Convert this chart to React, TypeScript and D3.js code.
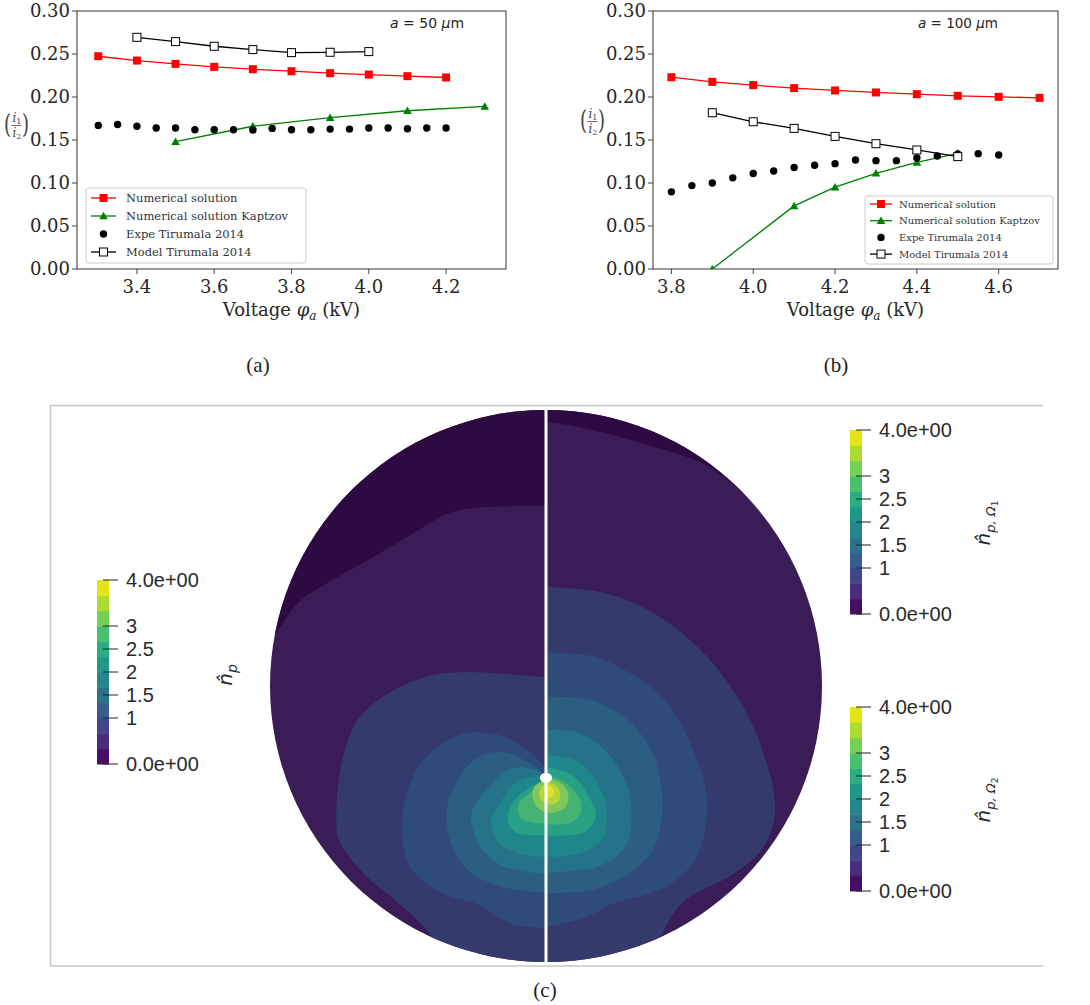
import React from "react";
import * as d3 from "d3";

const W = 1090;
const H = 1005;
const SERIF = "'DejaVu Serif', serif";
const SANS = "'DejaVu Sans', sans-serif";

// ---------------- Data: panel (a), a = 50 µm ----------------
const voltA_num = [3.3, 3.4, 3.5, 3.6, 3.7, 3.8, 3.9, 4.0, 4.1, 4.2];
const numA = [0.2474, 0.2424, 0.2385, 0.235, 0.2323, 0.23, 0.2277, 0.2261, 0.2242, 0.2227];
const voltA_kap = [3.5, 3.7, 3.9, 4.1, 4.3];
const kapA = [0.148, 0.166, 0.176, 0.184, 0.189];
const voltA_exp = [3.3, 3.35, 3.4, 3.45, 3.5, 3.55, 3.6, 3.65, 3.7, 3.75, 3.8, 3.85, 3.9, 3.95, 4.0, 4.05, 4.1, 4.15, 4.2];
const expA = [0.167, 0.168, 0.166, 0.164, 0.164, 0.162, 0.162, 0.162, 0.1616, 0.1635, 0.162, 0.162, 0.1627, 0.1627, 0.164, 0.164, 0.163, 0.164, 0.164];
const voltA_mod = [3.4, 3.5, 3.6, 3.7, 3.8, 3.9, 4.0];
const modA = [0.2694, 0.2644, 0.259, 0.2551, 0.2516, 0.252, 0.2528];

// ---------------- Data: panel (b), a = 100 µm ----------------
const voltB_num = [3.8, 3.9, 4.0, 4.1, 4.2, 4.3, 4.4, 4.5, 4.6, 4.7];
const numB = [0.223, 0.2176, 0.2138, 0.2103, 0.2076, 0.2053, 0.2033, 0.2014, 0.2002, 0.199];
const voltB_kap = [3.9, 4.1, 4.2, 4.3, 4.4, 4.5];
const kapB = [0.0, 0.0734, 0.0951, 0.1113, 0.124, 0.1345];
const voltB_exp = [3.8, 3.85, 3.9, 3.95, 4.0, 4.05, 4.1, 4.15, 4.2, 4.25, 4.3, 4.35, 4.4, 4.45, 4.5, 4.55, 4.6];
const expB = [0.0897, 0.097, 0.1, 0.106, 0.111, 0.114, 0.118, 0.1206, 0.1225, 0.1268, 0.126, 0.126, 0.129, 0.1314, 0.1337, 0.1341, 0.1326];
const voltB_mod = [3.9, 4.0, 4.1, 4.2, 4.3, 4.4, 4.5];
const modB = [0.1817, 0.1712, 0.1635, 0.1542, 0.1457, 0.1384, 0.1307];

const SERIES_NAMES = ["Numerical solution", "Numerical solution Kaptzov", "Expe Tirumala 2014", "Model Tirumala 2014"];
const Y_TICKS = [0, 0.05, 0.1, 0.15, 0.2, 0.25, 0.3];
const X_TICKS_A = [3.4, 3.6, 3.8, 4.0, 4.2];
const X_TICKS_B = [3.8, 4.0, 4.2, 4.4, 4.6];

// ---------------- Data: panel (c), contour bands ----------------
const CB_TICKS = [0, 1, 1.5, 2, 2.5, 3, 4];
const CB_LABELS = ["0.0e+00", "1", "1.5", "2", "2.5", "3", "4.0e+00"];
const N_BANDS = 12;
const CONTOUR_COLORS = ["#2e0a42", "#3a1c57", "#343a6c", "#2f4b78", "#2b5e80", "#257289", "#1f878b", "#27a083", "#45b373", "#80c65a", "#b5d53a", "#e2e024"];

// boundaries in normalized disk coordinates (u right, v up, radius 1)
const LEFT_REGIONS = [
  { level: 0, edge: [[-1.03, 0.13], [-0.98, 0.19], [-0.9, 0.3], [-0.78, 0.38], [-0.62, 0.47], [-0.47, 0.56], [-0.34, 0.63], [-0.17, 0.65], [0.05, 0.65]], close: [[0.05, 1.1], [-1.1, 1.1], [-1.1, 0.13]] },
  { level: 2, edge: [[0.04, 0.03], [-0.1, 0.04], [-0.25, 0.05], [-0.41, 0.04], [-0.56, -0.02], [-0.68, -0.12], [-0.74, -0.28], [-0.76, -0.48], [-0.75, -0.56], [-0.66, -0.68], [-0.53, -0.79], [-0.42, -0.9], [-0.37, -1.01]], close: [[-0.37, -1.1], [0.04, -1.1]] },
  { level: 3, edge: [[0.01, -0.31], [-0.07, -0.23], [-0.16, -0.18], [-0.28, -0.17], [-0.38, -0.21], [-0.46, -0.29], [-0.51, -0.41], [-0.52, -0.54], [-0.49, -0.66], [-0.38, -0.75], [-0.25, -0.79], [-0.13, -0.86], [0.01, -0.88]], close: [[0.05, -0.88], [0.05, -0.31]] },
  { level: 4, edge: [[0.01, -0.33], [-0.06, -0.28], [-0.15, -0.24], [-0.25, -0.26], [-0.32, -0.34], [-0.36, -0.45], [-0.34, -0.58], [-0.28, -0.67], [-0.15, -0.73], [0.01, -0.75]], close: [[0.05, -0.75], [0.05, -0.33]] },
  { level: 5, edge: [[0.01, -0.33], [-0.05, -0.3], [-0.13, -0.3], [-0.21, -0.37], [-0.27, -0.46], [-0.25, -0.56], [-0.18, -0.64], [-0.09, -0.67], [0.01, -0.68]], close: [[0.05, -0.68], [0.05, -0.33]] },
  { level: 6, edge: [[0.01, -0.33], [-0.06, -0.33], [-0.12, -0.36], [-0.17, -0.43], [-0.2, -0.49], [-0.17, -0.57], [-0.09, -0.61], [0.01, -0.62]], close: [[0.05, -0.62], [0.05, -0.33]] },
  { level: 7, edge: [[0.01, -0.34], [-0.06, -0.37], [-0.11, -0.41], [-0.14, -0.48], [-0.11, -0.53], [0.01, -0.54]], close: [[0.05, -0.54], [0.05, -0.34]] },
  { level: 8, edge: [[0.01, -0.34], [-0.05, -0.38], [-0.1, -0.43], [-0.09, -0.48], [0.01, -0.5]], close: [[0.05, -0.5], [0.05, -0.34]] },
];

const RIGHT_REGIONS = [
  { level: 0, edge: [[-0.06, 0.96], [0.05, 0.95], [0.2, 0.92], [0.38, 0.87], [0.56, 0.81], [0.68, 0.73], [0.8, 0.62]], close: [[0.9, 1.1], [-0.06, 1.1]] },
  { level: 2, edge: [[-0.04, 0.36], [0.2, 0.34], [0.38, 0.27], [0.56, 0.13], [0.7, -0.05], [0.79, -0.25], [0.83, -0.45], [0.79, -0.58], [0.68, -0.68], [0.5, -0.78], [0.43, -0.88], [0.38, -1.01]], close: [[0.38, -1.1], [-0.04, -1.1]] },
  { level: 3, edge: [[-0.04, 0.12], [0.16, 0.11], [0.3, 0.05], [0.43, -0.05], [0.52, -0.2], [0.58, -0.38], [0.58, -0.5], [0.54, -0.63], [0.43, -0.73], [0.24, -0.79], [0.14, -0.84], [-0.04, -0.88]], close: [[-0.1, -0.88], [-0.1, 0.12]] },
  { level: 4, edge: [[-0.04, -0.04], [0.16, -0.05], [0.29, -0.12], [0.38, -0.23], [0.42, -0.38], [0.42, -0.47], [0.39, -0.59], [0.3, -0.68], [0.16, -0.74], [-0.04, -0.75]], close: [[-0.1, -0.75], [-0.1, -0.04]] },
  { level: 5, edge: [[-0.04, -0.16], [0.12, -0.17], [0.23, -0.25], [0.3, -0.38], [0.31, -0.47], [0.29, -0.58], [0.2, -0.65], [0.09, -0.67], [-0.04, -0.68]], close: [[-0.1, -0.68], [-0.1, -0.16]] },
  { level: 6, edge: [[-0.04, -0.25], [0.11, -0.27], [0.19, -0.36], [0.22, -0.45], [0.2, -0.56], [0.11, -0.61], [-0.04, -0.62]], close: [[-0.1, -0.62], [-0.1, -0.25]] },
  { level: 7, edge: [[-0.04, -0.29], [0.09, -0.32], [0.16, -0.41], [0.18, -0.47], [0.14, -0.53], [-0.04, -0.54]], close: [[-0.1, -0.54], [-0.1, -0.29]] },
  { level: 8, edge: [[-0.04, -0.31], [0.07, -0.35], [0.13, -0.43], [0.1, -0.49], [-0.04, -0.5]], close: [[-0.1, -0.5], [-0.1, -0.31]] },
];

const CORE_REGIONS = [
  { level: 9, ring: [[0, -0.34], [0.05, -0.35], [0.08, -0.39], [0.07, -0.44], [0.01, -0.46], [-0.04, -0.43], [-0.045, -0.37]] },
  { level: 10, ring: [[0.01, -0.35], [0.045, -0.37], [0.05, -0.41], [0.02, -0.43], [-0.02, -0.41], [-0.02, -0.37]] },
  { level: 11, ring: [[0.01, -0.36], [0.03, -0.38], [0.025, -0.4], [0.0, -0.4], [-0.005, -0.38]] },
];
const SOURCE_POINT = [0, -0.333];

type Box = { left: number; right: number; top: number; bottom: number };

function Marker({ kind, x, y }: { kind: number; x: number; y: number }) {
  if (kind === 0) return <rect x={x - 4} y={y - 4} width={8} height={8} fill="#ff0000" />;
  if (kind === 1) return <path d={d3.symbol(d3.symbolTriangle, 32)() as string} transform={`translate(${x},${y + 0.8})`} fill="#008000" />;
  if (kind === 2) return <circle cx={x} cy={y} r={3.7} fill="#000" />;
  return <rect x={x - 4} y={y - 4} width={8} height={8} fill="#fff" stroke="#000" strokeWidth={1} />;
}

function YLabel({ x, y }: { x: number; y: number }) {
  return (
    <g fill="#444" fontFamily={SERIF}>
      <text transform={`translate(${x},${y + 8}) scale(1,1.45)`} fontSize={18}>(</text>
      <text x={x + 8.5} y={y - 3} fontSize={12} fontStyle="italic">i<tspan fontSize={8} dy={2} fontStyle="normal">1</tspan></text>
      <line x1={x + 7.5} x2={x + 17.5} y1={y + 0.5} y2={y + 0.5} stroke="#444" strokeWidth={0.8} />
      <text x={x + 8.5} y={y + 12} fontSize={12} fontStyle="italic">i<tspan fontSize={8} dy={2} fontStyle="normal">2</tspan></text>
      <text transform={`translate(${x + 18},${y + 8}) scale(1,1.45)`} fontSize={18}>)</text>
    </g>
  );
}

function LinePanel(props: {
  id: string; box: Box; xDomain: [number, number]; xTicks: number[];
  series: { xs: number[]; ys: number[] }[];
  legend: { x: number; y: number; w: number; h: number; fs: number; row0: number; dy: number; hx0: number; hx1: number; tx: number };
  note: { x: number; text: string; fs: number };
  ylab: { x: number; y: number };
}) {
  const { id, box, xDomain, xTicks, series, legend, note, ylab } = props;
  const x = d3.scaleLinear().domain(xDomain).range([box.left, box.right]);
  const y = d3.scaleLinear().domain([0, 0.3]).range([box.bottom, box.top]);
  const line = d3.line<[number, number]>().x((d) => x(d[0])).y((d) => y(d[1]));
  const colors = ["#ff0000", "#008000", "none", "#000000"];
  const fy = d3.format(".2f");
  const fx = d3.format(".1f");
  return (
    <g>
      <defs>
        <clipPath id={`clip-${id}`}>
          <rect x={box.left} y={box.top} width={box.right - box.left} height={box.bottom - box.top} />
        </clipPath>
      </defs>
      <g clipPath={`url(#clip-${id})`}>
        {series.map((s, i) => {
          const pts = s.xs.map((v, k) => [v, s.ys[k]] as [number, number]);
          return (
            <g key={i}>
              {colors[i] !== "none" && <path d={line(pts) as string} fill="none" stroke={colors[i]} strokeWidth={1.3} />}
              {pts.map((p, k) => <Marker key={k} kind={i} x={x(p[0])} y={y(p[1])} />)}
            </g>
          );
        })}
      </g>
      <rect x={box.left} y={box.top} width={box.right - box.left} height={box.bottom - box.top} fill="none" stroke="#555" strokeWidth={1.2} />
      {Y_TICKS.map((t) => (
        <g key={t}>
          <line x1={box.left - 5} x2={box.left} y1={y(t)} y2={y(t)} stroke="#444" />
          <text x={box.left - 7} y={y(t)} dy="0.36em" textAnchor="end" fontFamily={SERIF} fontSize={18} fill="#262626">{fy(t)}</text>
        </g>
      ))}
      {xTicks.map((t) => (
        <g key={t}>
          <line x1={x(t)} x2={x(t)} y1={box.bottom} y2={box.bottom + 5} stroke="#444" />
          <text x={x(t)} y={box.bottom + 24} textAnchor="middle" fontFamily={SERIF} fontSize={18} fill="#262626">{fx(t)}</text>
        </g>
      ))}
      <text x={(box.left + box.right) / 2} y={316} textAnchor="middle" fontFamily={SERIF} fontSize={18} fill="#262626">
        Voltage <tspan fontStyle="italic">φ</tspan><tspan fontStyle="italic" fontSize={12} dy={4}>a</tspan><tspan dy={-4}> (kV)</tspan>
      </text>
      <YLabel x={ylab.x} y={ylab.y} />
      <text x={note.x} y={28} fontFamily={SANS} fontSize={note.fs} fill="#262626">
        <tspan fontStyle="italic">a</tspan> = {note.text} <tspan fontStyle="italic">μ</tspan>m
      </text>
      <rect x={legend.x} y={legend.y} width={legend.w} height={legend.h} rx={3} fill="#fff" fillOpacity={0.8} stroke="#cccccc" />
      {SERIES_NAMES.map((name, i) => {
        const ry = legend.row0 + i * legend.dy;
        return (
          <g key={name}>
            {colors[i] !== "none" && <line x1={legend.hx0} x2={legend.hx1} y1={ry} y2={ry} stroke={colors[i]} strokeWidth={1.3} />}
            <Marker kind={i} x={(legend.hx0 + legend.hx1) / 2} y={ry} />
            <text x={legend.tx} y={ry} dy="0.35em" fontFamily={SERIF} fontSize={legend.fs} fill="#333">{name}</text>
          </g>
        );
      })}
    </g>
  );
}

function Colorbar({ x, yTop, yBot, title, titleX, titleY }: { x: number; yTop: number; yBot: number; title: React.ReactNode; titleX: number; titleY: number }) {
  const s = d3.scaleLinear().domain([0, 4]).range([yBot, yTop]);
  const bands = d3.range(N_BANDS);
  const bw = 12;
  return (
    <g>
      {bands.map((k) => (
        <rect key={k} x={x} y={s(((k + 1) * 4) / N_BANDS)} width={bw} height={s((k * 4) / N_BANDS) - s(((k + 1) * 4) / N_BANDS) + 0.5} fill={d3.interpolateViridis((k + 0.5) / N_BANDS)} />
      ))}
      {CB_TICKS.map((t, i) => (
        <g key={t}>
          <line x1={x + bw - 6} x2={x + bw + 9} y1={s(t)} y2={s(t)} stroke="#222" strokeWidth={1} />
          <text x={x + bw + 17} y={s(t)} dy="0.36em" fontFamily="'Liberation Sans', Arial, sans-serif" fontSize={20} fill="#2a2a2a">{CB_LABELS[i]}</text>
        </g>
      ))}
      <g transform={`translate(${titleX},${titleY}) rotate(-90)`}>
        <text textAnchor="middle" dy="0.35em" fontFamily={SANS} fontSize={20} fill="#2a2a2a">{title}</text>
      </g>
    </g>
  );
}

function Contour() {
  const cx = 546, cy = 686, r = 276;
  const u = d3.scaleLinear().domain([-1, 1]).range([cx - r, cx + r]);
  const v = d3.scaleLinear().domain([-1, 1]).range([cy + r, cy - r]);
  const open = d3.line<number[]>().x((d) => u(d[0])).y((d) => v(d[1])).curve(d3.curveCatmullRom.alpha(0.5));
  const closed = d3.line<number[]>().x((d) => u(d[0])).y((d) => v(d[1])).curve(d3.curveCatmullRomClosed.alpha(0.5));
  const region = (edge: number[][], close: number[][]) => (open(edge) as string) + close.map((p) => `L${u(p[0])},${v(p[1])}`).join("") + "Z";
  return (
    <g>
      <defs>
        <clipPath id="disk"><circle cx={u(0)} cy={v(0)} r={u(1) - u(0)} /></clipPath>
        <clipPath id="lhalf"><rect x={u(-1.2)} y={v(1.2)} width={u(0) - u(-1.2)} height={v(-1.2) - v(1.2)} /></clipPath>
        <clipPath id="rhalf"><rect x={u(0)} y={v(1.2)} width={u(1.2) - u(0)} height={v(-1.2) - v(1.2)} /></clipPath>
      </defs>
      <g clipPath="url(#disk)">
        <g clipPath="url(#lhalf)">
          <rect x={u(-1.2)} y={v(1.2)} width={u(0) - u(-1.2)} height={v(-1.2) - v(1.2)} fill={CONTOUR_COLORS[1]} />
          {LEFT_REGIONS.map((g, i) => <path key={i} d={region(g.edge, g.close)} fill={CONTOUR_COLORS[g.level]} />)}
        </g>
        <g clipPath="url(#rhalf)">
          <rect x={u(0)} y={v(1.2)} width={u(1.2) - u(0)} height={v(-1.2) - v(1.2)} fill={CONTOUR_COLORS[1]} />
          {RIGHT_REGIONS.map((g, i) => <path key={i} d={region(g.edge, g.close)} fill={CONTOUR_COLORS[g.level]} />)}
        </g>
        {CORE_REGIONS.map((g, i) => <path key={i} d={closed(g.ring) as string} fill={CONTOUR_COLORS[g.level]} />)}
      </g>
      <line x1={u(0)} x2={u(0)} y1={v(1) - 3} y2={v(-1) + 2} stroke="#fff" strokeWidth={3} />
      <ellipse cx={u(SOURCE_POINT[0])} cy={v(SOURCE_POINT[1])} rx={6} ry={5} fill="#fff" />
    </g>
  );
}

export default function App() {
  return (
    <svg width={W} height={H} style={{ position: "absolute", left: 0, top: 0, background: "#fff" }}>
      <rect width={W} height={H} fill="#fff" />
      <LinePanel
        id="a"
        box={{ left: 77, right: 506, top: 11, bottom: 269 }}
        xDomain={[3.245, 4.355]}
        xTicks={X_TICKS_A}
        series={[{ xs: voltA_num, ys: numA }, { xs: voltA_kap, ys: kapA }, { xs: voltA_exp, ys: expA }, { xs: voltA_mod, ys: modA }]}
        legend={{ x: 86, y: 188, w: 220, h: 75, fs: 11.5, row0: 198, dy: 18, hx0: 91, hx1: 116, tx: 126 }}
        note={{ x: 390, text: "50", fs: 14 }}
        ylab={{ x: 4, y: 125 }}
      />
      <LinePanel
        id="b"
        box={{ left: 653, right: 1058, top: 11, bottom: 269 }}
        xDomain={[3.755, 4.745]}
        xTicks={X_TICKS_B}
        series={[{ xs: voltB_num, ys: numB }, { xs: voltB_kap, ys: kapB }, { xs: voltB_exp, ys: expB }, { xs: voltB_mod, ys: modB }]}
        legend={{ x: 865, y: 196, w: 188, h: 68, fs: 10, row0: 204, dy: 16.7, hx0: 870, hx1: 892, tx: 899 }}
        note={{ x: 918, text: "100", fs: 13.5 }}
        ylab={{ x: 580, y: 121 }}
      />
      <text x={258} y={372} textAnchor="middle" fontFamily="'Liberation Serif', serif" fontSize={21} fill="#222">(a)</text>
      <text x={836} y={372} textAnchor="middle" fontFamily="'Liberation Serif', serif" fontSize={21} fill="#222">(b)</text>

      {/* panel (c) frame */}
      <path d="M1043,405.5 H50.5 V966 H1043" fill="none" stroke="#c8c8c8" strokeWidth={1.5} />
      <Contour />
      <Colorbar x={97} yTop={580} yBot={764} titleX={225} titleY={675}
        title={<><tspan fontStyle="italic">n̂</tspan><tspan fontStyle="italic" fontSize={14} dy={5}>p</tspan></>} />
      <Colorbar x={850} yTop={430} yBot={614} titleX={983} titleY={523}
        title={<><tspan fontStyle="italic">n̂</tspan><tspan fontStyle="italic" fontSize={13} dy={5}>p, Ω</tspan><tspan fontSize={9} dy={3}>1</tspan></>} />
      <Colorbar x={850} yTop={707} yBot={891} titleX={983} titleY={800}
        title={<><tspan fontStyle="italic">n̂</tspan><tspan fontStyle="italic" fontSize={13} dy={5}>p, Ω</tspan><tspan fontSize={9} dy={3}>2</tspan></>} />
      <text x={545} y={997} textAnchor="middle" fontFamily="'Liberation Serif', serif" fontSize={21} fill="#222">(c)</text>
    </svg>
  );
}
